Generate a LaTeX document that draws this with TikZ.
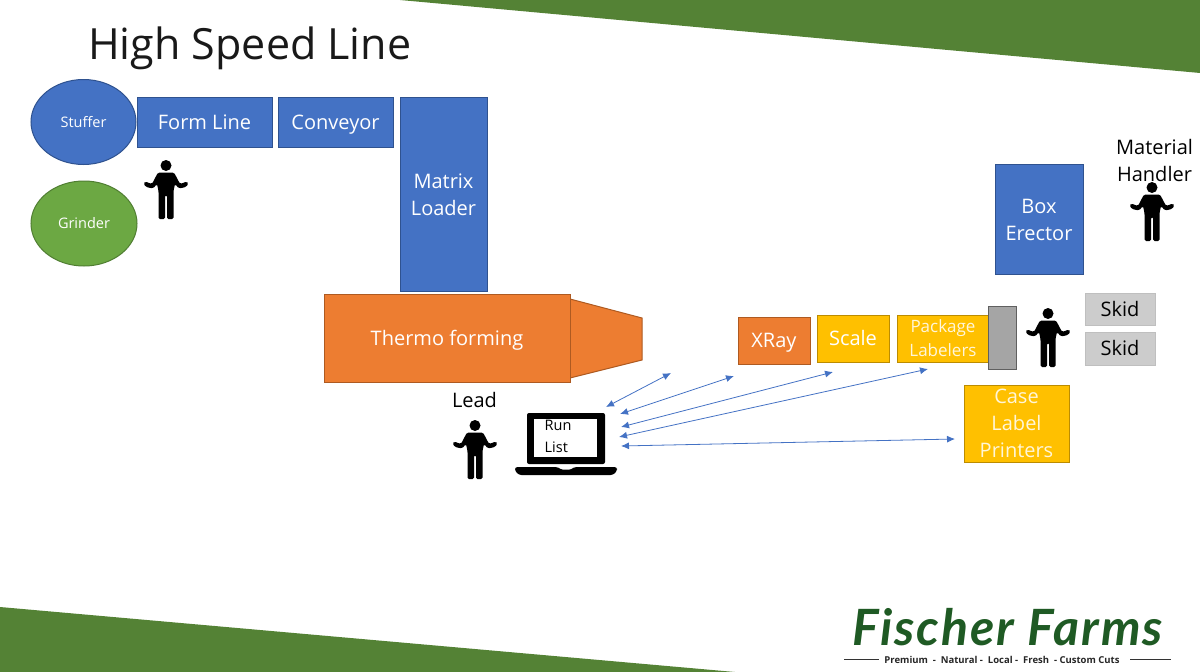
\documentclass[tikz,border=0pt]{standalone}
\usepackage{fontspec}
\setmainfont{Open Sans}
\newfontfamily\logofont[LetterSpace=4]{Lato}
\usetikzlibrary{arrows.meta,shapes.geometric}
\definecolor{bannergreen}{HTML}{548235}
\definecolor{pblue}{HTML}{4472C4}
\definecolor{pblueline}{HTML}{2F528F}
\definecolor{porange}{HTML}{ED7D31}
\definecolor{porangeline}{HTML}{AE5A21}
\definecolor{pgreen}{HTML}{6CA843}
\definecolor{pgreenline}{HTML}{507E32}
\definecolor{pgold}{HTML}{FFC000}
\definecolor{pgoldline}{HTML}{BC8C00}
\definecolor{pgray}{HTML}{A5A5A5}
\definecolor{pgrayline}{HTML}{606060}
\definecolor{logogreen}{HTML}{1F5A24}
\newcommand{\lowerline}{\rule{0pt}{15.5pt}}
\tikzset{
  x=1pt,y=-1pt,
  basebox/.style={rectangle,inner sep=0pt,align=center,text=white,font=\fontsize{20}{27}\selectfont,line width=1pt},
  oneline/.style={text height=19pt,text depth=5pt},
  bluebox/.style={basebox,fill=pblue,draw=pblueline},
  orangebox/.style={basebox,fill=porange,draw=porangeline},
  goldbox/.style={basebox,fill=pgold,draw=pgoldline,text=white},
  graybox/.style={basebox,fill=pgray,draw=pgrayline},
  skidbox/.style={basebox,fill=black!20,draw=black!25,text=black},
  roundshape/.style={ellipse,inner sep=0pt,align=center,text=white,font=\fontsize{14.5}{18}\selectfont,line width=1pt},
  plainlabel/.style={inner sep=0pt,align=center,text=black,font=\fontsize{20}{27}\selectfont},
  link/.style={draw=pblue,line width=0.8pt,{Latex[length=8pt,width=7pt]}-{Latex[length=8pt,width=7pt]}},
  pics/person/.style={code={
    \fill[black] (0,5.5) circle[radius=5.5];
    \fill[black,rounded corners=1.5pt] (-8,12.5) -- (8,12.5) -- (12,20) -- (14,24) -- (21,21.5) -- (22.5,23.5) -- (20,27) -- (13,28.5) -- (9,24) -- (7.5,31) -- (7.5,59) -- (1,59) -- (1,35) -- (-1,35) -- (-1,59) -- (-7.5,59) -- (-7.5,31) -- (-9,24) -- (-13,28.5) -- (-20,27) -- (-22.5,23.5) -- (-21,21.5) -- (-14,24) -- (-12,20) -- cycle;
  }}
}
\begin{document}
\begin{tikzpicture}
\useasboundingbox (0,0) rectangle (1200,672);
% banners
\fill[bannergreen] (400,0) -- (1200,73) -- (1200,0) -- cycle;
\fill[bannergreen] (0,607) -- (735,672) -- (0,672) -- cycle;
% title
\node[inner sep=0pt,anchor=base west,font=\fontsize{43}{50}\selectfont,text=black!90] (title) at (88,59) {High Speed Line};
% top row
\node[roundshape,fill=pblue,draw=pblueline,minimum width=105pt,minimum height=85pt] (stuffer) at (83.5,122) {Stuffer};
\node[roundshape,fill=pgreen,draw=pgreenline,minimum width=106pt,minimum height=85pt] (grinder) at (84,223.5) {Grinder};
\node[bluebox,oneline,minimum width=135pt,minimum height=50pt] (formline) at (204.5,122) {Form Line};
\node[bluebox,oneline,minimum width=115pt,minimum height=50pt] (conveyor) at (335.5,122) {Conveyor};
\node[bluebox,minimum width=87pt,minimum height=194pt] (matrix) at (443.5,194) {\lowerline Matrix\\Loader};
% thermoformer
\fill[porange,draw=porangeline,line width=1pt] (570,299) -- (642,318) -- (642,360) -- (570,378) -- cycle;
\node[orangebox,oneline,minimum width=246pt,minimum height=88pt] (thermo) at (447,338) {Thermo forming};
% end of line
\node[orangebox,oneline,minimum width=72pt,minimum height=47pt] (xray) at (774,340.5) {XRay};
\node[goldbox,oneline,minimum width=72pt,minimum height=47pt] (scale) at (853,338.5) {Scale};
\node[goldbox,minimum width=92pt,minimum height=47pt,font=\fontsize{17}{24}\selectfont,text=white!85!pgold] (package) at (943,338.5) {Package\\Labelers};
\node[graybox,minimum width=28pt,minimum height=63pt] (gate) at (1002.5,338) {};
\node[goldbox,minimum width=105pt,minimum height=77pt,text=white!85!pgold] (caselabel) at (1016.5,423.5) {Case\\Label\\Printers};
\node[bluebox,minimum width=88pt,minimum height=110pt] (boxerector) at (1039,219) {\lowerline Box\\Erector};
\node[skidbox,oneline,minimum width=70pt,minimum height=32pt] (skidA) at (1120,309) {Skid};
\node[skidbox,oneline,minimum width=70pt,minimum height=33pt] (skidB) at (1120,348.5) {Skid};
% people
\pic at (166,160) {person};
\pic at (475,420) {person};
\pic at (1048,308) {person};
\pic at (1152,182) {person};
\node[plainlabel] (lead) at (474.5,400) {Lead};
\node[plainlabel] (handler) at (1154.5,160) {Material\\Handler};
% laptop
\fill[black,rounded corners=2pt] (527,413) rectangle (605,464);
\fill[white] (534,419) rectangle (597,457);
\fill[black,rounded corners=2.5pt] (515,467) -- (558,467) -- (560,469.5) -- (572,469.5) -- (574,467) -- (617,467) -- (617,471) -- (613,475) -- (519,475) -- (515,471) -- cycle;
\node[inner sep=0pt,align=left,anchor=west,font=\fontsize{14.5}{21.5}\selectfont] (runlist) at (544.5,436.5) {Run\\List};
% connector ends
\coordinate (a1) at (606,407); \coordinate (b1) at (671,373);
\coordinate (a2) at (620,414); \coordinate (b2) at (734,376);
\coordinate (a3) at (621,427); \coordinate (b3) at (833,372);
\coordinate (a4) at (619,437); \coordinate (b4) at (928,369);
\coordinate (a5) at (621,446); \coordinate (b5) at (955,439);
\draw[link] (a1) -- (b1);
\draw[link] (a2) -- (b2);
\draw[link] (a3) -- (b3);
\draw[link] (a4) -- (b4);
\draw[link] (a5) -- (b5);
% logo
\node[inner sep=0pt,anchor=base,text=logogreen,font=\logofont\itshape\bfseries\fontsize{50}{52}\selectfont] (logo) at (1007.5,645) {Fischer Farms};
\node[inner sep=0pt,anchor=base,text=black!85,font=\bfseries\fontsize{9.5}{11}\selectfont] (tag) at (1002,663) {Premium~~-~~Natural~-~~Local~-~~Fresh~~-~Custom Cuts};
\coordinate (la) at (844,659.5); \coordinate (lb) at (879,659.5);
\coordinate (lc) at (1130,659.5); \coordinate (ld) at (1171,659.5);
\draw[black!80,line width=0.8pt] (la) -- (lb);
\draw[black!80,line width=0.8pt] (lc) -- (ld);
\end{tikzpicture}
\end{document}
